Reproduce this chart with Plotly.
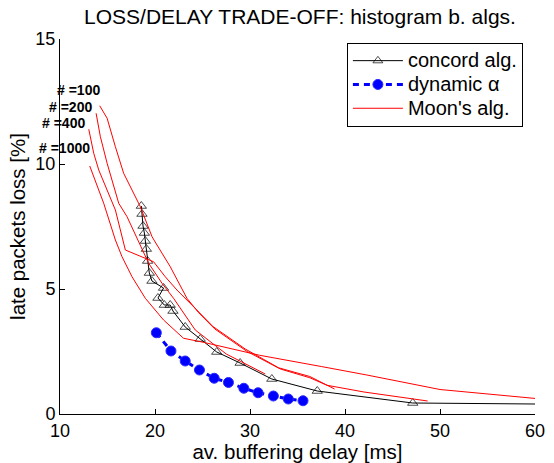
import plotly.graph_objects as go

# ---- data ----
concord_x = [18.56, 18.63, 18.74, 18.88, 18.98, 19.09, 19.22, 19.40, 19.68, 20.90, 20.31,
             20.98, 21.60, 21.89, 23.18, 24.76, 26.50, 28.96, 32.30, 37.08, 47.13, 60.0]
concord_y = [8.32, 8.00, 7.52, 7.24, 6.92, 6.60, 6.12, 5.64, 5.32, 5.04, 4.64,
             4.36, 4.36, 4.12, 3.48, 3.00, 2.48, 2.04, 1.40, 0.92, 0.44, 0.40]

dyn_x = [20.14, 21.68, 23.18, 24.68, 26.23, 27.73, 29.35, 30.85, 32.46, 34.03, 35.58]
dyn_y = [3.25, 2.52, 2.12, 1.76, 1.43, 1.26, 1.03, 0.85, 0.72, 0.60, 0.53]

moon100_x = [14.18, 14.96, 15.83, 16.70, 18.46, 19.69, 20.21, 21.61, 23.36, 24.6, 26.3, 29.7, 33.2, 36.3, 38.1, 42.0, 48.7]
moon100_y = [12.33, 11.83, 10.69, 9.63, 8.29, 7.09, 6.76, 5.89, 4.63, 4.05, 3.40, 2.50, 1.80, 1.45, 1.15, 0.88, 0.52]

moon200_x = [13.80, 14.25, 14.96, 15.65, 16.18, 17.06, 18.63, 19.33, 20.74, 21.95, 24.24, 27.5, 31.6]
moon200_y = [12.03, 11.09, 10.03, 9.09, 8.43, 7.89, 6.63, 6.03, 5.23, 4.63, 3.36, 2.40, 1.60]

moon400_x = [13.03, 13.55, 14.08, 14.96, 15.83, 16.88, 19.85, 21.08, 22.31, 24.3, 26.1, 29.5, 33.0, 36.3, 38.9]
moon400_y = [11.39, 10.43, 9.76, 8.96, 8.16, 6.56, 6.09, 5.49, 4.96, 4.20, 3.50, 2.60, 1.85, 1.50, 1.00]

moon1000_x = [13.13, 13.91, 14.60, 15.83, 16.53, 17.58, 18.98, 20.90, 23.00, 25.20, 31.0, 37.5, 42.3, 50.0, 60.1]
moon1000_y = [9.92, 9.09, 8.43, 6.96, 6.29, 5.49, 4.63, 3.76, 3.03, 2.86, 2.35, 1.90, 1.56, 0.98, 0.62]

moon_labels = ["# =100", "# =200", "# =400", "# =1000"]
label_x = [14.46, 13.62, 12.89, 13.41]
label_y = [12.95, 12.29, 11.65, 10.64]

FONT = "Liberation Sans, Arial, sans-serif"
LEG = '<span style="font-size:20px">%s</span>'

fig = go.Figure()

fig.add_trace(go.Scatter(
    x=concord_x, y=concord_y, mode="lines+markers", name=LEG % "concord alg.",
    line=dict(color="black", width=1),
    marker=dict(symbol="triangle-up-open", color="black", line=dict(width=1),
                size=[9] * (len(concord_x) - 1) + [0]),
))
fig.add_trace(go.Scatter(
    x=dyn_x, y=dyn_y, mode="lines+markers", name=LEG % "dynamic α",
    line=dict(color="#0000ff", width=3, dash="6px,5px"),
    marker=dict(symbol="circle", color="#0000ff", size=10,
                line=dict(color="#2a2aff", width=1)),
))
first = True
for mx, my in [(moon100_x, moon100_y), (moon200_x, moon200_y),
               (moon400_x, moon400_y), (moon1000_x, moon1000_y)]:
    fig.add_trace(go.Scatter(
        x=mx, y=my, mode="lines", name=LEG % "Moon's alg.",
        line=dict(color="#ff0000", width=1),
        showlegend=first,
    ))
    first = False

for t, lx, ly in zip(moon_labels, label_x, label_y):
    fig.add_annotation(x=lx, y=ly, text="<b>%s</b>" % t, showarrow=False,
                       xanchor="right", yanchor="middle",
                       font=dict(family=FONT, size=14, color="black"))

fig.update_layout(
    width=554, height=463,
    margin=dict(l=59.5, r=18.5, t=39, b=49, autoexpand=False),
    paper_bgcolor="white", plot_bgcolor="white",
    font=dict(family=FONT, color="black", size=18),
    title=dict(text="LOSS/DELAY TRADE-OFF: histogram b. algs.", x=0.5415, xanchor="center",
               y=0.963, yanchor="middle", font=dict(size=21)),
    legend=dict(x=0.604, y=0.99, xanchor="left", yanchor="top",
                bordercolor="black", borderwidth=1, bgcolor="white",
                font=dict(size=16), tracegroupgap=0, itemwidth=50),
)
fig.update_xaxes(range=[10, 60], tickvals=[10, 20, 30, 40, 50, 60],
                 ticks="inside", ticklen=5, tickcolor="black", automargin=False,
                 showline=True, linecolor="black", linewidth=1, showgrid=False,
                 zeroline=False, title=dict(text="av. buffering delay [ms]", standoff=2,
                                            font=dict(size=20.5)),
                 tickfont=dict(size=18))
fig.update_yaxes(range=[0, 15], tickvals=[0, 5, 10, 15],
                 ticks="inside", ticklen=5, tickcolor="black", automargin=False,
                 showline=True, linecolor="black", linewidth=1, showgrid=False,
                 zeroline=False, title=dict(text="late packets loss [%]", standoff=4,
                                            font=dict(size=20.5)),
                 tickfont=dict(size=18))

fig.write_html("out.html")
